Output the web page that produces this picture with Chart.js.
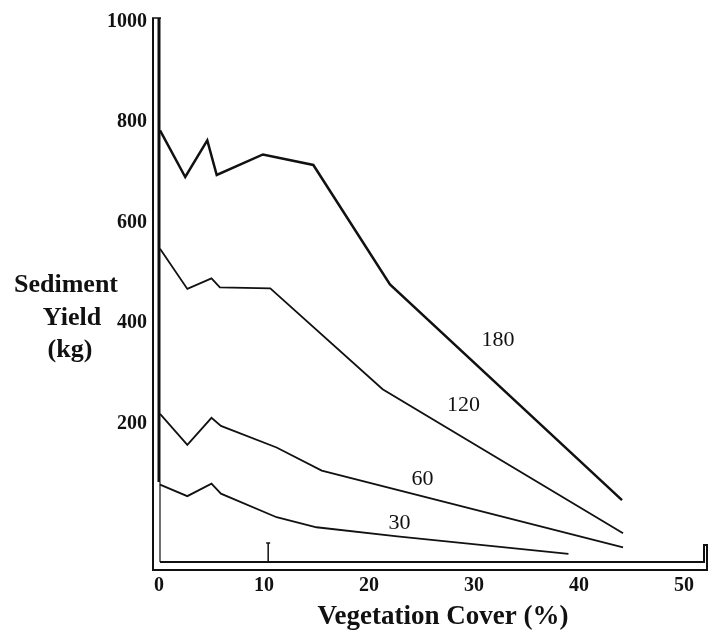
<!DOCTYPE html>
<html>
<head>
<meta charset="utf-8">
<script src="https://cdn.jsdelivr.net/npm/chart.js@4/dist/chart.umd.min.js"></script>
<style>
  body { margin: 0; background: #fff; }
  canvas { display: block; }
</style>
</head>
<body>
<canvas id="sedimentChart" width="713" height="632"></canvas>
<script>
// values
const x180 = [0.1, 2.5, 4.6, 5.5, 9.9, 14.7, 22.0, 44.1];
const y180 = [784, 691, 764, 695, 736, 715, 477, 47];

const x120 = [0.1, 2.7, 5.0, 5.8, 10.6, 21.3, 44.2];
const y120 = [548, 468, 489, 471, 469, 268, -19];

const x60 = [0.1, 2.7, 5.0, 5.9, 11.2, 15.5, 44.2];
const y60 = [219, 157, 211, 195, 152, 106, -47];

const x30 = [0.1, 2.7, 5.0, 5.9, 11.2, 15.0, 22.7, 39.0];
const y30 = [78, 55, 80, 60, 13, -7, -25, -60];

const curveNames = ["180", "120", "60", "30"];
const curveLabelX = [32.3, 29.0, 25.1, 22.9];
const curveLabelY = [366, 237, 88, 1];

const yTicks = [200, 400, 600, 800, 1000];
const xTicks = [0, 10, 20, 30, 40, 50];

const serif = "'Liberation Serif', 'Times New Roman', serif";

function pts(xs, ys) {
    return xs.map((x, i) => ({ x: x, y: ys[i] }));
}

function series(label, xs, ys, width) {
    return {
        label: label,
        data: pts(xs, ys),
        showLine: true,
        borderColor: '#111',
        borderWidth: width,
        pointRadius: 0,
        fill: false,
        tension: 0
    };
}

// frame, curve numbers and axis titles drawn by hand
const decorations = {
    id: 'decorations',
    afterDraw(chart) {
        const ctx = chart.ctx;
        const a = chart.chartArea;
        const xs = chart.scales.x;
        const ys = chart.scales.y;
        ctx.save();
        ctx.strokeStyle = '#111';
        ctx.lineCap = 'butt';

        // outer left + bottom
        ctx.lineWidth = 2;
        ctx.beginPath();
        ctx.moveTo(a.left, a.top);
        ctx.lineTo(a.left, a.bottom);
        ctx.lineTo(a.right - 1, a.bottom);
        ctx.lineTo(a.right - 1, a.bottom - 25);
        ctx.lineTo(a.right - 4, a.bottom - 25);
        ctx.lineTo(a.right - 4, a.bottom - 8);
        ctx.lineTo(a.left + 7, a.bottom - 8);
        ctx.stroke();

        // inner thick left bar
        ctx.lineWidth = 3;
        ctx.beginPath();
        ctx.moveTo(a.left + 6, a.top);
        ctx.lineTo(a.left + 6, a.bottom - 88);
        ctx.stroke();
        ctx.lineWidth = 1.2;
        ctx.beginPath();
        ctx.moveTo(a.left + 7, a.bottom - 88);
        ctx.lineTo(a.left + 7, a.bottom - 8);
        ctx.stroke();

        // little cap at top
        ctx.lineWidth = 1.5;
        ctx.beginPath();
        ctx.moveTo(a.left - 1, a.top);
        ctx.lineTo(a.left + 8, a.top);
        ctx.stroke();

        // small mark at 10
        const m = xs.getPixelForValue(10.4);
        ctx.lineWidth = 1.5;
        ctx.beginPath();
        ctx.moveTo(m, a.bottom - 27);
        ctx.lineTo(m, a.bottom - 8);
        ctx.moveTo(m - 2, a.bottom - 27);
        ctx.lineTo(m + 2, a.bottom - 27);
        ctx.stroke();

        // curve numbers
        ctx.fillStyle = '#111';
        ctx.font = '22px ' + serif;
        ctx.textAlign = 'center';
        ctx.textBaseline = 'middle';
        curveNames.forEach((n, i) => {
            ctx.fillText(n, xs.getPixelForValue(curveLabelX[i]), ys.getPixelForValue(curveLabelY[i]));
        });

        // y title
        ctx.font = 'bold 26px ' + serif;
        ctx.fillText('Sediment', 66, 285);
        ctx.fillText('Yield', 72, 318);
        ctx.fillText('(kg)', 70, 350);

        // x title
        ctx.font = 'bold 27px ' + serif;
        ctx.fillText('Vegetation Cover (%)', 443, 617);
        ctx.restore();
    }
};

const ctx = document.getElementById('sedimentChart').getContext('2d');

new Chart(ctx, {
    type: 'scatter',
    data: {
        datasets: [
            series('180', x180, y180, 2.5),
            series('120', x120, y120, 1.8),
            series('60', x60, y60, 1.8),
            series('30', x30, y30, 1.8)
        ]
    },
    options: {
        responsive: false,
        animation: false,
        layout: { padding: { left: 0, top: 15, right: 5, bottom: 0 } },
        plugins: {
            legend: { display: false },
            tooltip: { enabled: false }
        },
        scales: {
            x: {
                type: 'linear',
                min: -0.57,
                max: 52.29,
                grid: { display: false, drawTicks: false },
                border: { display: false },
                afterBuildTicks: (s) => { s.ticks = xTicks.map(v => ({ value: v })); },
                afterFit: (s) => { s.height = 62; },
                ticks: {
                    color: '#111',
                    padding: 4,
                    callback: (v) => String(v),
                    font: { family: serif, size: 20, weight: 'bold' }
                }
            },
            y: {
                min: -92.2,
                max: 1007.9,
                grid: { display: false, drawTicks: false },
                border: { display: false },
                afterBuildTicks: (s) => { s.ticks = yTicks.map(v => ({ value: v })); },
                afterFit: (s) => { s.width = 153; },
                ticks: {
                    color: '#111',
                    padding: 6,
                    callback: (v) => String(v),
                    font: { family: serif, size: 20, weight: 'bold' }
                }
            }
        }
    },
    plugins: [decorations]
});
</script>
</body>
</html>
